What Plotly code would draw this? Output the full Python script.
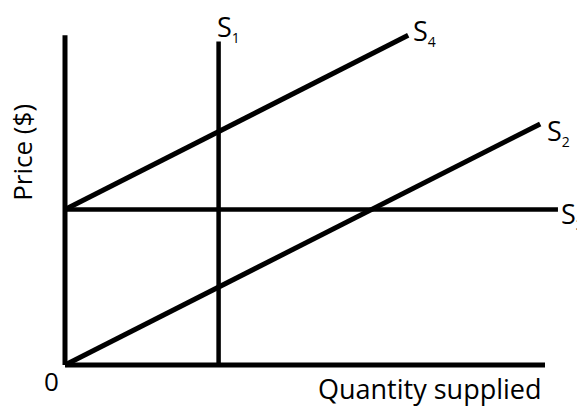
import plotly.graph_objects as go

# Data (quantity units on x, price units on y)
axis_y_x = [0, 0]
axis_y_y = [0, 10.6]
axis_x_x = [0, 10.0]
axis_x_y = [0, 0]

s1_x = [3.2, 3.2]
s1_y = [0, 10.4]
s2_x = [0, 9.9]
s2_y = [0, 7.75]
s3_x = [0, 10.27]
s3_y = [5, 5]
s4_x = [0, 7.15]
s4_y = [5, 10.6]

labels = ["1", "2", "3", "4"]

FONT = "Open Sans"
fig = go.Figure()

def add_line(x, y, w):
    fig.add_trace(go.Scatter(x=x, y=y, mode="lines",
                             line=dict(color="#000000", width=w),
                             hoverinfo="skip", showlegend=False))

add_line(axis_y_x, axis_y_y, 5)
add_line(axis_x_x, axis_x_y, 5)
add_line(s1_x, s1_y, 4.5)
add_line(s3_x, s3_y, 4.5)
add_line(s4_x, s4_y, 5)
add_line(s2_x, s2_y, 5)

def s_label(num, x, y):
    return dict(x=x, y=y, xref="x", yref="y", xanchor="left", yanchor="middle",
                text=f"S<sub><span style='font-size:14px'>{num}</span></sub>",
                showarrow=False, font=dict(family=FONT, size=27, color="#000"))

annotations = [
    s_label(labels[0], 3.12, 10.85),
    s_label(labels[3], 7.2, 10.72),
    s_label(labels[1], 10.0, 7.5),
    s_label(labels[2], 10.29, 4.85),
    dict(x=-0.29, y=-0.5, xref="x", yref="y", text="0", showarrow=False,
         xanchor="center", yanchor="middle", font=dict(family=FONT, size=26, color="#000")),
    dict(x=9.98, y=-0.74, xref="x", yref="y", text="Quantity supplied", showarrow=False,
         xanchor="right", yanchor="middle", font=dict(family=FONT, size=27, color="#000")),
    dict(x=-0.9, y=6.85, xref="x", yref="y", text="Price ($)", showarrow=False, textangle=-90,
         xanchor="center", yanchor="middle", borderpad=0,
         font=dict(family=FONT, size=26, color="#000")),
]

# page body has an 8px margin, so the figure is drawn 8px in from the corner
fig.update_layout(
    width=577, height=399,
    margin=dict(l=0, r=0, t=0, b=0),
    paper_bgcolor="white", plot_bgcolor="white",
    xaxis=dict(range=[-57/48, 520/48], visible=False, fixedrange=True),
    yaxis=dict(range=[-42/31.1, 357/31.1], visible=False, fixedrange=True),
    annotations=annotations,
    showlegend=False,
)

fig.write_html("out.html")
